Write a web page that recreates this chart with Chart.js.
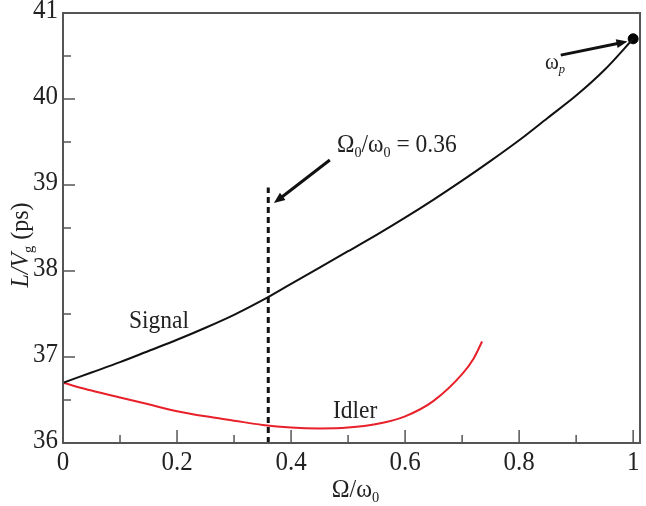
<!DOCTYPE html>
<html>
<head>
<meta charset="utf-8">
<script src="https://cdn.jsdelivr.net/npm/chart.js@4.4.1/dist/chart.umd.min.js"></script>
<style>
  html, body { margin: 0; padding: 0; background: #fff; }
  #wrap { width: 646px; height: 506px; }
</style>
</head>
<body>
<div id="wrap"><canvas id="grafico" width="646" height="506"></canvas></div>
<script>
// ===============================
// DADOS
// ===============================
const signalX = [0, 0.05, 0.1, 0.15, 0.2, 0.25, 0.3, 0.35, 0.4, 0.45, 0.5, 0.55, 0.6, 0.65, 0.7, 0.75, 0.8, 0.85, 0.9, 0.95, 1.0];
const signalY = [36.70, 36.82, 36.94, 37.07, 37.20, 37.34, 37.49, 37.66, 37.85, 38.04, 38.23, 38.42, 38.62, 38.83, 39.05, 39.28, 39.52, 39.78, 40.04, 40.34, 40.70];

const idlerX = [0, 0.05, 0.1, 0.15, 0.2, 0.25, 0.3, 0.35, 0.4, 0.45, 0.5, 0.55, 0.6, 0.65, 0.7, 0.72, 0.735];
const idlerY = [36.70, 36.61, 36.53, 36.45, 36.37, 36.31, 36.26, 36.21, 36.18, 36.17, 36.18, 36.22, 36.31, 36.49, 36.80, 36.98, 37.18];

const pumpPoint = { x: 1.0, y: 40.70 };
const omega0Mark = 0.36;
const omega0Top = 38.97;

const xTicks = [0, 0.2, 0.4, 0.6, 0.8, 1];
const xTickLabels = ["0", "0.2", "0.4", "0.6", "0.8", "1"];
const xMinor = [0.1, 0.3, 0.5, 0.7, 0.9];
const yTicks = [36, 37, 38, 39, 40, 41];
const yTickLabels = ["36", "37", "38", "39", "40", "41"];
const yMinor = [36.5, 37.5, 38.5, 39.5, 40.5];

const SERIF = "'Liberation Serif', 'DejaVu Serif', serif";
const ESTICA = 1.06; // fonte do original e um pouco mais alta

function pares(xs, ys) {
  return xs.map((x, i) => ({ x: x, y: ys[i] }));
}

// ===============================
// TEXTO COM SUBSCRITO
// ===============================
function larguraPartes(ctx, partes, size) {
  let w = 0;
  partes.forEach(p => {
    const s = p.sub ? size * 0.6 : size;
    ctx.font = (p.italic ? "italic " : "") + s + "px " + SERIF;
    w += ctx.measureText(p.t).width;
  });
  return w;
}

// desenha em (x, y) = inicio da linha de base; align "center" centraliza
function textoPartes(ctx, partes, x, y, size, align) {
  const w = larguraPartes(ctx, partes, size);
  let cx = align === "center" ? -w / 2 : 0;
  ctx.save();
  ctx.translate(x, y);
  ctx.scale(1, ESTICA);
  ctx.textAlign = "left";
  ctx.textBaseline = "alphabetic";
  partes.forEach(p => {
    const s = p.sub ? size * 0.6 : size;
    ctx.font = (p.italic ? "italic " : "") + s + "px " + SERIF;
    ctx.fillText(p.t, cx, p.sub ? size * 0.2 : 0);
    cx += ctx.measureText(p.t).width;
  });
  ctx.restore();
}

function texto(ctx, t, x, y, size, align) {
  ctx.save();
  ctx.translate(x, y);
  ctx.scale(1, ESTICA);
  ctx.font = size + "px " + SERIF;
  ctx.textAlign = align;
  ctx.textBaseline = "middle";
  ctx.fillText(t, 0, 0);
  ctx.restore();
}

function seta(ctx, x1, y1, x2, y2) {
  const ang = Math.atan2(y2 - y1, x2 - x1);
  const L = 11, W = 4.5;
  ctx.beginPath();
  ctx.moveTo(x1, y1);
  ctx.lineTo(x2 - Math.cos(ang) * L * 0.8, y2 - Math.sin(ang) * L * 0.8);
  ctx.lineWidth = 3;
  ctx.strokeStyle = "#111";
  ctx.stroke();
  ctx.beginPath();
  ctx.moveTo(x2, y2);
  ctx.lineTo(x2 - Math.cos(ang) * L - Math.sin(ang) * W, y2 - Math.sin(ang) * L + Math.cos(ang) * W);
  ctx.lineTo(x2 - Math.cos(ang) * L + Math.sin(ang) * W, y2 - Math.sin(ang) * L - Math.cos(ang) * W);
  ctx.closePath();
  ctx.fillStyle = "#111";
  ctx.fill();
}

// ===============================
// PLUGIN: MOLDURA, TICKS E ANOTACOES
// ===============================
const decoracao = {
  id: "decoracao",
  beforeDatasetsDraw(chart) {
    const { ctx, scales } = chart;
    const sx = scales.x, sy = scales.y;
    ctx.save();
    // linha tracejada em Omega0
    ctx.beginPath();
    ctx.setLineDash([6, 4]);
    ctx.moveTo(sx.getPixelForValue(omega0Mark), sy.getPixelForValue(36));
    ctx.lineTo(sx.getPixelForValue(omega0Mark), sy.getPixelForValue(omega0Top));
    ctx.lineWidth = 3;
    ctx.strokeStyle = "#111";
    ctx.stroke();
    ctx.restore();
  },
  afterDraw(chart) {
    const { ctx, chartArea: a, scales } = chart;
    const sx = scales.x, sy = scales.y;
    ctx.save();
    ctx.strokeStyle = "#555";
    ctx.lineWidth = 2;
    ctx.strokeRect(a.left, a.top, a.right - a.left, a.bottom - a.top);

    // ticks para dentro (so embaixo e a esquerda)
    ctx.lineWidth = 1.5;
    ctx.beginPath();
    xTicks.forEach(v => {
      const p = sx.getPixelForValue(v);
      ctx.moveTo(p, a.bottom); ctx.lineTo(p, a.bottom - 13);
    });
    xMinor.forEach(v => {
      const p = sx.getPixelForValue(v);
      ctx.moveTo(p, a.bottom); ctx.lineTo(p, a.bottom - 8);
    });
    yTicks.forEach(v => {
      const p = sy.getPixelForValue(v);
      ctx.moveTo(a.left, p); ctx.lineTo(a.left + 12, p);
    });
    yMinor.forEach(v => {
      const p = sy.getPixelForValue(v);
      ctx.moveTo(a.left, p); ctx.lineTo(a.left + 8, p);
    });
    ctx.stroke();

    ctx.fillStyle = "#222";

    // rotulos dos ticks
    xTicks.forEach((v, i) => texto(ctx, xTickLabels[i], sx.getPixelForValue(v), a.bottom + 20, 25, "center"));
    yTicks.forEach((v, i) => texto(ctx, yTickLabels[i], a.left - 5, sy.getPixelForValue(v) - 2, 25, "right"));

    // titulo eixo x
    textoPartes(ctx, [{ t: "\u03A9/\u03C9" }, { t: "0", sub: true }], (a.left + a.right) / 2 + 4, 497, 24, "center");

    // titulo eixo y
    ctx.save();
    ctx.translate(28, 245);
    ctx.rotate(-Math.PI / 2);
    textoPartes(ctx, [{ t: "L/V", italic: true }, { t: "g", sub: true }, { t: " (ps)" }], 0, 0, 24, "center");
    ctx.restore();

    // rotulos das curvas
    textoPartes(ctx, [{ t: "Signal" }], 129, 328, 23.5);
    textoPartes(ctx, [{ t: "Idler" }], 333, 418, 23.5);

    textoPartes(ctx, [{ t: "\u03A9" }, { t: "0", sub: true }, { t: "/\u03C9" }, { t: "0", sub: true }, { t: " = 0.36" }], 337, 152, 23.5);
    textoPartes(ctx, [{ t: "\u03C9" }, { t: "p", sub: true, italic: true }], 545, 69, 21);

    // setas
    seta(ctx, sx.getPixelForValue(0.468), sy.getPixelForValue(39.29), sx.getPixelForValue(omega0Mark + 0.01), sy.getPixelForValue(38.79));
    seta(ctx, sx.getPixelForValue(0.873), sy.getPixelForValue(40.51), sx.getPixelForValue(0.99), sy.getPixelForValue(40.67));
    ctx.restore();
  }
};

// ===============================
// GRAFICO
// ===============================
const ctx = document.getElementById("grafico").getContext("2d");

new Chart(ctx, {
  type: "scatter",
  data: {
    datasets: [
      {
        label: "Signal",
        data: pares(signalX, signalY),
        showLine: true,
        borderColor: "#111",
        borderWidth: 2,
        pointRadius: 0,
        cubicInterpolationMode: "monotone"
      },
      {
        label: "Idler",
        data: pares(idlerX, idlerY),
        showLine: true,
        borderColor: "#e8202a",
        borderWidth: 2,
        pointRadius: 0,
        cubicInterpolationMode: "monotone"
      },
      {
        label: "pump",
        data: [pumpPoint],
        pointRadius: 5,
        backgroundColor: "#000",
        borderColor: "#000"
      }
    ]
  },
  options: {
    responsive: false,
    animation: false,
    layout: { padding: { top: 13, right: 1, left: 0, bottom: 0 } },
    plugins: {
      legend: { display: false },
      tooltip: { enabled: false }
    },
    scales: {
      x: {
        type: "linear",
        min: 0,
        max: 1.012,
        grid: { display: false, drawTicks: false },
        border: { display: false },
        ticks: { display: false },
        afterFit(scale) { scale.height = 63; }
      },
      y: {
        type: "linear",
        min: 36,
        max: 41,
        grid: { display: false, drawTicks: false },
        border: { display: false },
        ticks: { display: false },
        afterFit(scale) { scale.width = 63; }
      }
    }
  },
  plugins: [decoracao]
});
</script>
</body>
</html>
